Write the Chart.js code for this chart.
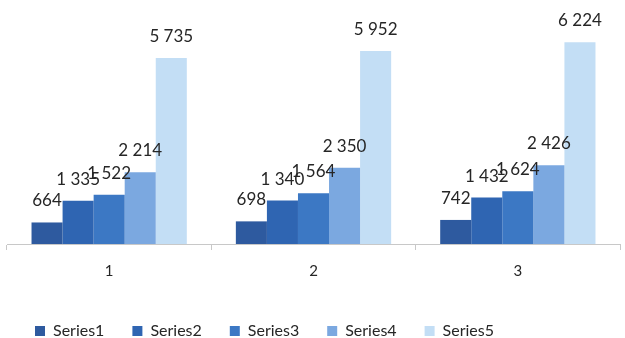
<!DOCTYPE html>
<html>
<head>
<meta charset="utf-8">
<script src="https://cdn.jsdelivr.net/npm/chart.js@4.4.0/dist/chart.umd.min.js"></script>
<style>
  html, body { margin: 0; padding: 0; background: #fff; }
  #wrap { width: 625px; height: 338px; }
</style>
</head>
<body>
<div id="wrap"><canvas id="barChart"></canvas></div>
<script>
// 카테고리 / 시리즈 값
var categories = ['1', '2', '3'];
var seriesNames = ['Series1', 'Series2', 'Series3', 'Series4', 'Series5'];
var series1 = [664, 698, 742];
var series2 = [1335, 1340, 1432];
var series3 = [1522, 1564, 1624];
var series4 = [2214, 2350, 2426];
var series5 = [5735, 5952, 6224];
var seriesColors = ['#2e5a9f', '#2f65b2', '#3c78c4', '#7ba8e0', '#c3def5'];

var allSeries = [series1, series2, series3, series4, series5];

// 천 단위 공백 구분
function fmt(v) {
	return String(v).replace(/\B(?=(\d{3})+(?!\d))/g, ' ');
}

var datasets = [];
for (var i = 0; i < allSeries.length; i++) {
	datasets.push({
		label: seriesNames[i],
		data: allSeries[i],
		backgroundColor: seriesColors[i],
		borderWidth: 0
	});
}

// 막대 위 값 라벨
var valueLabels = {
	id: 'valueLabels',
	afterDatasetsDraw: function(chart) {
		var ctx = chart.ctx;
		ctx.save();
		ctx.font = '17px Lato';
		ctx.fillStyle = '#262626';
		ctx.textAlign = 'center';
		ctx.textBaseline = 'bottom';
		chart.data.datasets.forEach(function(ds, di) {
			var meta = chart.getDatasetMeta(di);
			meta.data.forEach(function(bar, j) {
				ctx.fillText(fmt(ds.data[j]), bar.x, bar.y - 13);
			});
		});
		ctx.restore();
	}
};

// 범례 높이 줄이기 (가로 간격은 유지)
var legendFit = {
	id: 'legendFit',
	afterInit: function(chart) {
		var lg = chart.legend;
		var origFit = lg.fit;
		lg.fit = function() {
			origFit.call(lg);
			lg.height -= 11;
		};
	}
};

var config = {
	type: 'bar',
	data: { labels: categories, datasets: datasets },
	options: {
		responsive: true,
		maintainAspectRatio: false,
		animation: false,
		layout: { padding: { top: 17, left: 7, right: 5, bottom: 0 } },
		datasets: { bar: { categoryPercentage: 0.76, barPercentage: 1.0 } },
		scales: {
			x: {
				offset: true,
				grid: {
					offset: true,
					drawOnChartArea: false,
					color: '#c8c8c8',
					tickLength: 6
				},
				border: { color: '#c8c8c8' },
				ticks: { color: '#262626', font: { family: 'Lato', size: 15 }, padding: 12 },
				afterFit: function(scale) { scale.height = 51; }
			},
			y: { display: false, min: 0, max: 7000 }
		},
		plugins: {
			legend: {
				position: 'bottom',
				align: 'start',
				labels: {
					boxWidth: 10,
					boxHeight: 10,
					padding: 28,
					color: '#262626',
					font: { family: 'Lato', size: 16 }
				}
			},
			tooltip: { enabled: false }
		}
	},
	plugins: [valueLabels, legendFit]
};

var ctx1 = document.getElementById('barChart').getContext('2d');
new Chart(ctx1, config);
</script>
</body>
</html>
